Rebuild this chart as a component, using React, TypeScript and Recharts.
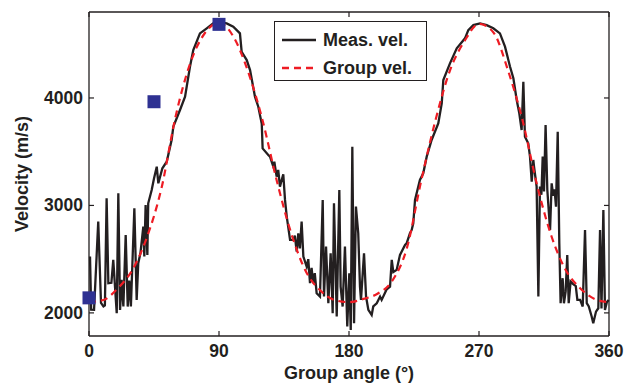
import React from 'react';
import {
  ComposedChart,
  Line,
  Scatter,
  XAxis,
  YAxis,
  Legend,
} from 'recharts';

// measured velocity trace (angle in degrees, velocity in m/s)
const measAngle = [
  0.7, 1.5, 3.5, 6.4, 8.3, 10.0, 11.0, 12.2, 13.4, 15.5, 16.8, 19.2, 20.3, 21.5, 22.6, 23.8, 25.4, 26.8,
  27.9, 29.0, 31.4, 33.0, 34.1, 35.6, 37.6, 38.3, 39.2, 40.4, 41.0, 43.4, 45.0, 46.9, 48.0, 50.8, 53.8,
  57.2, 58.4, 63.0, 66.5, 69.9, 72.2, 76.8, 81.5, 86.0, 90.0, 95.3, 99.9, 104.5, 105.7, 109.2, 111.5,
  114.9, 117.2, 119.6, 120.2, 124.1, 125.3, 127.6, 128.3, 129.9, 131.0, 132.2, 133.4, 134.5, 135.7,
  136.9, 139.2, 141.5, 142.5, 143.8, 144.9, 146.0, 147.2, 148.4, 150.7, 151.8, 153.0, 154.1, 155.2,
  156.3, 157.6, 159.9, 161.8, 162.7, 164.1, 165.7, 167.3, 168.7, 169.6, 171.5, 173.3, 174.2, 175.6,
  177.2, 178.8, 180.2, 181.2, 182.3, 183.5, 184.8, 186.4, 187.6, 188.3, 190.4, 191.8, 193.4, 195.7,
  196.8, 199.2, 201.5, 202.6, 206.1, 208.4, 209.6, 210.7, 213.0, 215.3, 218.8, 219.9, 222.2, 223.4,
  224.5, 225.7, 229.1, 231.4, 233.8, 237.2, 241.8, 244.2, 245.3, 249.9, 254.6, 260.3, 262.6, 266.1,
  270.7, 275.3, 279.9, 284.5, 288.0, 291.5, 293.8, 296.1, 297.9, 299.5, 300.7, 301.8, 304.1, 305.3,
  306.5, 307.6, 308.1, 309.9, 311.1, 312.2, 313.2, 314.1, 315.0, 316.1, 317.3, 319.2, 320.3, 321.4,
  322.3, 323.3, 324.5, 325.6, 326.5, 327.9, 328.8, 330.0, 331.1, 332.1, 333.4, 335.0, 337.0, 338.1,
  340.0, 341.8, 343.4, 344.6, 346.0, 348.0, 349.1, 351.0, 352.6, 353.8, 354.8, 356.1, 357.2, 358.5, 359.8,
];
const measVel = [
  2524, 2030, 2028, 2849, 2093, 2060, 2070, 3067, 2276, 2280, 2493, 1997, 3113, 2028, 2307, 2060, 2725, 2059,
  2300, 2060, 2973, 2121, 2462, 2555, 2803, 2524, 3004, 2539, 3020, 3144, 3250, 3361, 3206, 3346, 3407,
  3609, 3733, 3888, 4012, 4291, 4446, 4601, 4648, 4694, 4706, 4694, 4663, 4601, 4430, 4353, 4260,
  4012, 3919, 3760, 3531, 3469, 3454, 3361, 3407, 3268, 3330, 3175, 3237, 3290, 3051,
  2896, 2679, 2679, 2720, 2570, 2741, 2600, 2849, 2524, 2431, 2500, 2276, 2420, 2276,
  2370, 2183, 2152, 3051, 2152, 2617, 2090, 2555, 1997, 3020, 1966, 3144, 2245, 2059,
  2617, 1873, 2369, 1842, 3547, 1904, 2989, 2741, 2245, 2121, 2555, 2152, 2028, 1981,
  2060, 2090, 2152, 2121, 2220, 2245, 2493, 2380, 2400, 2540, 2633, 2648, 2741, 2772,
  2834, 3051, 3237, 3299, 3454, 3609, 3764, 3950, 4167, 4322, 4462, 4555, 4632, 4678,
  4694, 4678, 4648, 4601, 4477, 4291, 4183, 3981, 3857, 3702, 4151, 3640, 3578, 3454,
  3221, 3423, 3361, 3175, 2152, 3175, 3100, 3454, 3130, 3749, 3144, 2772, 3206, 3090,
  3150, 2989, 3686, 2648, 2090, 2323, 2090, 2200, 2539, 2090, 2291, 2270, 2250, 2121,
  2121, 2059, 2772, 2090, 2060, 1966, 1904, 2012, 2043, 2772, 2040, 2958, 2028, 2100, 2121,
];

// group velocity curve
const groupAngle = [
  0, 10, 20, 30, 40, 50, 60, 70, 80, 90, 100, 110, 120, 130, 140, 150, 160, 170, 180,
  190, 200, 210, 220, 230, 240, 250, 260, 270, 280, 290, 300, 310, 320, 330, 340, 350, 360,
];
const groupVel = [
  2100, 2120, 2230, 2400, 2700, 3150, 3830, 4320, 4600, 4700, 4570, 4250, 3800, 3230, 2740, 2390, 2210, 2120, 2100,
  2130, 2180, 2300, 2600, 3230, 3800, 4260, 4530, 4690, 4610, 4260, 3800, 3200, 2720, 2400, 2230, 2130, 2100,
];

// highlighted points
const markAngle = [0, 45, 90];
const markVel = [2140, 3965, 4685];

const xTicks = [0, 90, 180, 270, 360];
const yTicks = [2000, 3000, 4000];
const legendOrder = ['Meas. vel.', 'Group vel.'];

const measData = measAngle.map((a, i) => ({ a, v: measVel[i] }));
const groupData = groupAngle.map((a, i) => ({ a, v: groupVel[i] }));
const markData = markAngle.map((a, i) => ({ a, v: markVel[i] }));

const INK = '#231f20';
const FONT = '"Liberation Sans", Arial, Helvetica, sans-serif';
const TICK_LEN = 5;

const BottomTick = (p: any) => (
  <g>
    <line x1={p.x} y1={p.y} x2={p.x} y2={p.y - TICK_LEN} stroke={INK} strokeWidth={1.2} />
    <text x={p.x} y={p.y + 21} textAnchor="middle" fontSize={17.5} fontWeight="bold" fill={INK} fontFamily={FONT}>
      {p.payload.value}
    </text>
  </g>
);
const TopTick = (p: any) => (
  <line x1={p.x} y1={p.y} x2={p.x} y2={p.y + TICK_LEN} stroke={INK} strokeWidth={1.2} />
);
const LeftTick = (p: any) => (
  <g>
    <line x1={p.x} y1={p.y} x2={p.x + TICK_LEN} y2={p.y} stroke={INK} strokeWidth={1.2} />
    <text x={p.x - 6} y={p.y + 6} textAnchor="end" fontSize={17.5} fontWeight="bold" fill={INK} fontFamily={FONT}>
      {p.payload.value}
    </text>
  </g>
);
const RightTick = (p: any) => (
  <line x1={p.x} y1={p.y} x2={p.x - TICK_LEN} y2={p.y} stroke={INK} strokeWidth={1.2} />
);

const Square = (p: any) => (
  <rect x={p.cx - 6.5} y={p.cy - 6.5} width={13} height={13} fill="#2e3192" />
);

const LegendBox = (props: any) => {
  const items = (props.payload || [])
    .filter((e: any) => legendOrder.includes(e.value))
    .sort((x: any, y: any) => legendOrder.indexOf(x.value) - legendOrder.indexOf(y.value));
  return (
    <div
      style={{
        position: 'relative',
        width: 153,
        height: 60,
        boxSizing: 'border-box',
        border: `1.5px solid ${INK}`,
        background: '#fff',
        fontFamily: FONT,
      }}
    >
      {items.map((e: any, i: number) => (
        <div key={i} style={{ position: 'absolute', left: 0, top: 6 + i * 28, height: 24, width: 150 }}>
          <svg width={40} height={24} style={{ position: 'absolute', left: 7, top: 0 }}>
            <line
              x1={0}
              y1={12}
              x2={34}
              y2={12}
              stroke={e.color}
              strokeWidth={2.4}
              strokeDasharray={e.payload?.strokeDasharray}
            />
          </svg>
          <span
            style={{
              position: 'absolute',
              left: 48,
              top: 1,
              fontSize: 18,
              fontWeight: 'bold',
              color: INK,
              whiteSpace: 'nowrap',
              lineHeight: '22px',
            }}
          >
            {e.value}
          </span>
        </div>
      ))}
    </div>
  );
};

export default function App() {
  return (
    <div style={{ position: 'absolute', left: 0, top: 0, background: '#fff' }}>
      <ComposedChart width={625} height={384} margin={{ top: 11, right: 15, left: 0, bottom: 0 }}>
        <XAxis
          xAxisId="b"
          dataKey="a"
          type="number"
          domain={[0, 360]}
          ticks={xTicks}
          interval={0}
          height={48}
          tickSize={0}
          tickMargin={0}
          tick={<BottomTick />}
          axisLine={{ stroke: INK, strokeWidth: 1.3 }}
          label={{
            value: 'Group angle (°)',
            position: 'insideBottom',
            offset: 5,
            style: { fontSize: 18, fontWeight: 'bold', fill: INK, fontFamily: FONT },
          }}
        />
        <XAxis
          xAxisId="t"
          orientation="top"
          dataKey="a"
          type="number"
          domain={[0, 360]}
          ticks={xTicks}
          interval={0}
          height={1}
          tickSize={0}
          tickMargin={0}
          tick={<TopTick />}
          axisLine={{ stroke: INK, strokeWidth: 1.3 }}
        />
        <YAxis
          yAxisId="l"
          type="number"
          domain={[1785, 4800]}
          ticks={yTicks}
          interval={0}
          width={89}
          tickSize={0}
          tickMargin={0}
          tick={<LeftTick />}
          axisLine={{ stroke: INK, strokeWidth: 1.3 }}
          label={{
            value: 'Velocity (m/s)',
            angle: -90,
            position: 'insideLeft',
            offset: 22,
            style: { textAnchor: 'middle', fontSize: 18, fontWeight: 'bold', fill: INK, fontFamily: FONT },
          }}
        />
        <YAxis
          yAxisId="r"
          orientation="right"
          type="number"
          domain={[1785, 4800]}
          ticks={yTicks}
          interval={0}
          width={1}
          tickSize={0}
          tickMargin={0}
          tick={<RightTick />}
          axisLine={{ stroke: INK, strokeWidth: 1.3 }}
        />
        {/* invisible copy bound to the top/right frame axes so they get drawn */}
        <Line
          xAxisId="t"
          yAxisId="r"
          data={groupData}
          dataKey="v"
          name="frame"
          legendType="none"
          stroke="none"
          dot={false}
          activeDot={false}
          isAnimationActive={false}
        />
        <Line
          xAxisId="b"
          yAxisId="l"
          data={measData}
          dataKey="v"
          name="Meas. vel."
          type="linear"
          stroke={INK}
          strokeWidth={2.3}
          dot={false}
          isAnimationActive={false}
        />
        <Line
          xAxisId="b"
          yAxisId="l"
          data={groupData}
          dataKey="v"
          name="Group vel."
          type="monotone"
          stroke="#ee1c24"
          strokeWidth={2.2}
          strokeDasharray="7 5"
          dot={false}
          isAnimationActive={false}
        />
        <Scatter
          xAxisId="b"
          yAxisId="l"
          data={markData}
          dataKey="v"
          legendType="none"
          shape={<Square />}
          isAnimationActive={false}
        />
        <Legend
          layout="vertical"
          align="center"
          verticalAlign="middle"
          content={<LegendBox />}
          wrapperStyle={{ left: 274, top: 21, width: 153, height: 60 }}
        />
      </ComposedChart>
    </div>
  );
}
